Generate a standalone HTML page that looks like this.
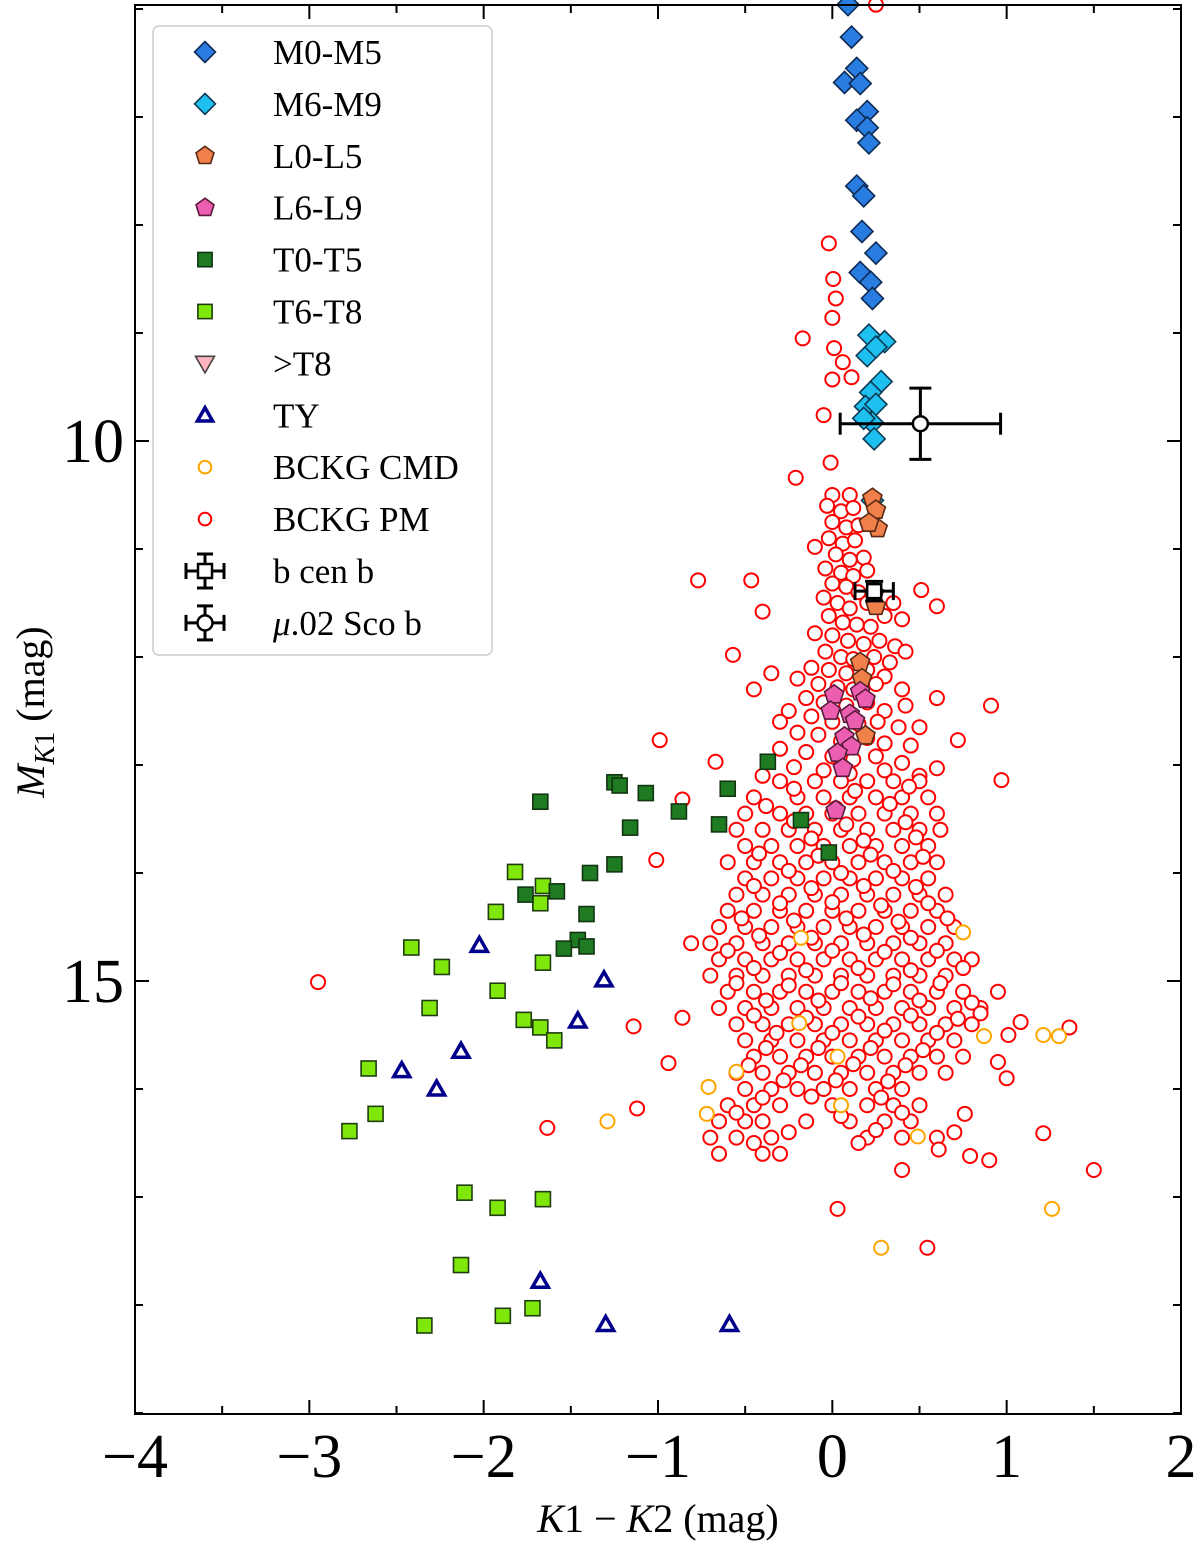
<!DOCTYPE html>
<html><head><meta charset="utf-8"><style>
html,body{margin:0;padding:0;background:#fff;width:1200px;height:1548px;overflow:hidden}
svg{display:block}
text{font-family:"Liberation Serif",serif;fill:#000}
</style></head><body>
<svg id="chart" width="1200" height="1548" viewBox="0 0 1200 1548" xmlns="http://www.w3.org/2000/svg">
<g id="marks"></g>
<g id="axes"></g>
<g id="legend"></g>
</svg>
<script>
const xTicks=[-4,-3,-2,-1,0,1,2];
const xTickLabels=["\u22124","\u22123","\u22122","\u22121","0","1","2"];
const yTicks=[10,15];
const yTickLabels=["10","15"];
const m05=[[0.09,5.96],[0.11,6.26],[0.14,6.55],[0.07,6.68],[0.16,6.69],[0.20,6.95],[0.14,7.03],[0.20,7.10],[0.21,7.24],[0.14,7.64],[0.18,7.73],[0.17,8.06],[0.25,8.26],[0.16,8.44],[0.22,8.53],[0.23,8.68]];
const m69=[[0.21,9.02],[0.30,9.08],[0.20,9.21],[0.25,9.13],[0.28,9.45],[0.22,9.55],[0.19,9.68],[0.25,9.66],[0.23,9.83],[0.18,9.79],[0.24,9.98],[0.23,10.55]];
const l05=[[0.23,10.53],[0.25,10.64],[0.26,10.81],[0.21,10.76],[0.24,11.41],[0.25,11.53],[0.16,12.05],[0.17,12.20],[0.19,12.73]];
const l69=[[0.01,12.35],[0.16,12.32],[0.19,12.39],[0.10,12.53],[-0.01,12.50],[0.13,12.59],[0.07,12.74],[0.11,12.83],[0.03,12.89],[0.06,13.03],[0.02,13.42]];
const t05=[[-1.675,13.34],[-1.25,13.16],[-1.22,13.19],[-1.07,13.26],[-0.88,13.43],[-0.65,13.55],[-0.60,13.22],[-0.37,12.97],[-1.16,13.58],[-1.25,13.92],[-1.39,14.00],[-1.41,14.38],[-1.46,14.62],[-1.54,14.70],[-1.41,14.68],[-1.58,14.17],[-1.76,14.20],[-0.18,13.51],[-0.02,13.81]];
const t68=[[-1.82,13.99],[-1.66,14.12],[-1.675,14.28],[-1.93,14.36],[-2.415,14.69],[-2.24,14.87],[-1.66,14.83],[-1.92,15.09],[-2.31,15.25],[-1.77,15.36],[-1.675,15.43],[-1.595,15.55],[-2.66,15.81],[-2.62,16.23],[-2.77,16.39],[-2.11,16.96],[-1.66,17.02],[-1.92,17.10],[-2.13,17.63],[-1.72,18.03],[-1.89,18.10],[-2.34,18.19]];
const ty=[[-2.025,14.67],[-1.31,14.99],[-1.46,15.37],[-2.13,15.65],[-2.47,15.83],[-2.27,16.00],[-1.675,17.78],[-1.30,18.18],[-0.59,18.18]];
const bckgCmd=[[-0.18,14.60],[0.75,14.55],[0.03,15.70],[-0.71,15.98],[-0.55,15.84],[-0.72,16.23],[-1.29,16.30],[0.05,16.15],[0.49,16.44],[1.21,15.50],[1.30,15.51],[0.87,15.51],[1.26,17.11],[0.28,17.47],[-0.19,15.39]];
const bckgPmOut=[[-2.95,15.01],[-0.77,11.29],[-0.465,11.29],[-0.57,11.98],[-0.99,12.77],[-0.86,13.32],[-0.67,12.97],[-1.01,13.88],[-0.81,14.65],[-1.14,15.42],[-0.94,15.76],[-0.86,15.34],[-1.12,16.18],[-1.635,16.36],[1.50,16.75],[0.97,13.14],[0.91,12.45],[0.51,11.38],[0.60,11.53],[0.60,12.38],[0.72,12.77],[0.60,13.03],[0.03,17.11],[0.545,17.47],[1.36,15.43],[1.08,15.38],[1.01,15.50],[1.21,16.41],[0.90,16.66],[0.79,16.62],[0.76,16.23],[0.61,16.56],[0.25,5.96],[-0.02,8.17],[0.005,8.50],[0.02,8.68],[0,8.86],[-0.17,9.05],[0.01,9.14],[0.06,9.27],[0.11,9.41],[0,9.43],[-0.05,9.76],[-0.01,10.20],[-0.21,10.34],[-0.4,11.58],[-0.35,12.15],[-0.45,12.3],[-0.3,12.6],[0.5,12.65],[0.85,15.3],[0.95,15.75],[1.0,15.9],[0.7,16.4],[0.4,16.75],[-0.45,16.5],[-0.3,16.6],[0.15,16.5]];
const bckgPmCore=[[0.0,10.5],[0.1,10.5],[-0.03,10.6],[0.05,10.65],[0.12,10.62],[0.0,10.75],[0.08,10.8],[0.15,10.78],[-0.02,10.9],[0.06,10.95],[0.13,10.92],[-0.1,10.98],[0.02,11.05],[0.1,11.1],[0.18,11.08],[-0.04,11.18],[0.05,11.22],[0.12,11.25],[0.2,11.2],[0.0,11.32],[0.08,11.35],[0.15,11.4],[-0.05,11.45],[0.03,11.5],[0.1,11.55],[0.2,11.5],[0.3,11.62],[-0.02,11.62],[0.06,11.68],[0.14,11.7],[0.22,11.72],[0.35,11.5],[0.4,11.65],[-0.1,11.78],[0.0,11.8],[0.09,11.85],[0.18,11.88],[0.27,11.85],[0.36,11.9],[-0.04,11.95],[0.05,12.0],[0.12,12.02],[0.24,12.0],[0.33,12.05],[0.42,11.95],[-0.12,12.1],[-0.02,12.12],[0.08,12.15],[0.2,12.12],[0.3,12.18],[-0.2,12.2],[-0.08,12.25],[0.03,12.28],[0.12,12.3],[0.25,12.25],[0.4,12.3],[-0.15,12.38],[-0.05,12.42],[0.08,12.45],[0.2,12.42],[0.3,12.5],[0.42,12.45],[-0.25,12.5],[-0.12,12.55],[0.0,12.6],[0.15,12.62],[0.26,12.6],[0.38,12.65],[-0.2,12.7],[-0.08,12.72],[0.05,12.78],[0.2,12.75],[0.3,12.8],[0.45,12.82],[-0.3,12.85],[-0.15,12.88],[0.0,12.92],[0.12,12.95],[0.25,12.92],[0.4,12.98],[-0.22,13.02],[-0.05,13.05],[0.1,13.08],[0.3,13.05],[0.5,13.1],[-0.4,13.1]];
const blobRowMags=[13.15,13.3,13.45,13.6,13.75,13.9,14.05,14.2,14.35,14.5,14.65,14.8,14.95,15.1,15.25,15.4,15.55,15.7,15.85,16.0,16.15,16.3,16.45,16.6];
const blobRowColors=[
[-0.3,-0.1,0.05,0.2,0.35,0.5],
[-0.45,-0.2,-0.05,0.1,0.25,0.4,0.55],
[-0.5,-0.3,-0.15,0.0,0.15,0.3,0.45,0.6],
[-0.55,-0.4,-0.25,-0.1,0.05,0.2,0.35,0.5,0.62],
[-0.5,-0.35,-0.2,-0.05,0.1,0.25,0.4,0.55],
[-0.6,-0.45,-0.3,-0.15,0.0,0.15,0.3,0.45,0.6],
[-0.5,-0.35,-0.2,-0.05,0.1,0.25,0.4,0.55],
[-0.55,-0.4,-0.25,-0.1,0.05,0.2,0.35,0.5,0.65],
[-0.6,-0.45,-0.3,-0.15,0.0,0.15,0.3,0.45,0.6],
[-0.65,-0.5,-0.35,-0.2,-0.05,0.1,0.25,0.4,0.55,0.7],
[-0.7,-0.55,-0.4,-0.25,-0.1,0.05,0.2,0.35,0.5,0.65],
[-0.65,-0.5,-0.35,-0.2,-0.05,0.1,0.25,0.4,0.55,0.7,0.8],
[-0.7,-0.55,-0.4,-0.25,-0.1,0.05,0.2,0.35,0.5,0.65],
[-0.6,-0.45,-0.3,-0.15,0.0,0.15,0.3,0.45,0.6,0.75,0.95],
[-0.65,-0.5,-0.35,-0.2,-0.05,0.1,0.25,0.4,0.55,0.7,0.85],
[-0.55,-0.4,-0.25,-0.1,0.05,0.2,0.35,0.5,0.65,0.8],
[-0.5,-0.35,-0.2,-0.05,0.1,0.25,0.4,0.55,0.7],
[-0.45,-0.3,-0.15,0.0,0.15,0.3,0.45,0.6,0.75],
[-0.55,-0.4,-0.25,-0.1,0.05,0.2,0.35,0.5,0.65],
[-0.5,-0.35,-0.2,-0.05,0.1,0.25,0.4],
[-0.6,-0.45,-0.3,0.0,0.2,0.35,0.5],
[-0.65,-0.5,-0.4,-0.15,0.1,0.3,0.45],
[-0.7,-0.55,-0.35,0.2,0.4,0.6],
[-0.65,-0.4]];
const bckgPmFill=[[-0.22,13.22],[0.13,13.24],[0.44,13.2],[-0.38,13.38],[0.02,13.4],[0.33,13.36],[-0.22,13.52],[0.08,13.55],[0.42,13.53],[-0.12,13.68],[0.18,13.7],[0.48,13.67],[-0.42,13.82],[-0.08,13.84],[0.22,13.83],[0.52,13.85],[-0.25,13.98],[0.05,14.0],[0.35,13.98],[-0.45,14.12],[-0.12,14.14],[0.18,14.12],[0.48,14.13],[-0.3,14.28],[0.0,14.27],[0.28,14.3],[0.55,14.28],[-0.52,14.42],[-0.22,14.44],[0.08,14.42],[0.38,14.45],[0.66,14.42],[-0.42,14.58],[-0.12,14.6],[0.18,14.57],[0.45,14.6],[-0.6,14.72],[-0.3,14.74],[0.0,14.72],[0.3,14.73],[0.6,14.72],[-0.45,14.88],[-0.15,14.9],[0.15,14.88],[0.45,14.9],[0.75,14.88],[-0.55,15.02],[-0.25,15.04],[0.05,15.02],[0.35,15.03],[0.62,15.02],[-0.38,15.18],[-0.08,15.18],[0.22,15.16],[0.5,15.18],[0.8,15.2],[-0.45,15.32],[-0.15,15.34],[0.15,15.33],[0.45,15.32],[0.72,15.35],[-0.32,15.48],[0.0,15.48],[0.3,15.46],[0.6,15.48],[-0.38,15.62],[-0.08,15.62],[0.22,15.62],[0.52,15.64],[-0.48,15.78],[-0.18,15.78],[0.12,15.77],[0.42,15.78],[-0.28,15.92],[0.02,15.92],[0.32,15.93],[-0.4,16.08],[-0.12,16.07],[0.28,16.08],[-0.55,16.22],[0.05,16.25],[0.4,16.22],[-0.25,16.4],[0.25,16.38]];
const muSco=[0.505,9.84,0.46,0.33];
const bCen=[0.24,11.39,0.11,0.09];

const L=135,R=1181,T=5,B=1414;
const X0=-4,X1=2;
function sx(v){return L+(v-X0)*(R-L)/(X1-X0);}
function sy(m){return 441+(m-10)*108;}
const NS="http://www.w3.org/2000/svg";
function el(tag,attrs,parent){const e=document.createElementNS(NS,tag);for(const k in attrs)e.setAttribute(k,attrs[k]);parent.appendChild(e);return e;}
const marks=document.getElementById('marks'),axes=document.getElementById('axes'),legend=document.getElementById('legend');

function marker(kind,cx,cy,fill,stroke,parent,s){
  s=s||1;let e;
  if(kind==='diamond'){const r=11*s;e=el('polygon',{points:`${cx},${cy-r} ${cx+r},${cy} ${cx},${cy+r} ${cx-r},${cy}`,fill,stroke,'stroke-width':1.6},parent);}
  else if(kind==='pent'){const r=10*s;let p=[];for(let i=0;i<5;i++){const a=-Math.PI/2+i*2*Math.PI/5;p.push((cx+r*Math.cos(a)).toFixed(1)+','+(cy+r*Math.sin(a)).toFixed(1));}e=el('polygon',{points:p.join(' '),fill,stroke,'stroke-width':1.6},parent);}
  else if(kind==='square'){const r=7.5*s;e=el('rect',{x:cx-r,y:cy-r,width:2*r,height:2*r,fill,stroke,'stroke-width':1.6},parent);}
  else if(kind==='tri'){const r=8*s;e=el('polygon',{points:`${cx},${cy-r} ${cx+r},${cy+r*0.75} ${cx-r},${cy+r*0.75}`,fill:'#fff',stroke,'stroke-width':3.5},parent);}
  else if(kind==='vtri'){const r=10*s;e=el('polygon',{points:`${cx-r},${cy-r*0.75} ${cx+r},${cy-r*0.75} ${cx},${cy+r}`,fill,stroke,'stroke-width':1.6},parent);}
  else if(kind==='circ'){e=el('circle',{cx,cy,r:7*s,fill:'#fff',stroke,'stroke-width':2},parent);}
  return e;
}
function series(arr,kind,fill,stroke,name){
  arr.forEach(d=>{const e=marker(kind,sx(d[0]),sy(d[1]),fill,stroke,marks);
    
    });
}
let pm=[];blobRowMags.forEach((m,i)=>blobRowColors[i].forEach(x=>pm.push([x,m])));
series(bckgPmCore,'circ','#fff','#ff0000','bckg-pm-point');
series(pm,'circ','#fff','#ff0000','bckg-pm-point');
series(bckgPmFill,'circ','#fff','#ff0000','bckg-pm-point');
series(bckgPmOut,'circ','#fff','#ff0000','bckg-pm-point');
series(bckgCmd,'circ','#fff','#ffa500','bckg-cmd-point');
series(t68,'square','#7fe80a','#1f3d0f','t6-t8-point');
series(t05,'square','#1e7b22','#123512','t0-t5-point');
series(ty,'tri','#fff','#00008b','ty-point');
series(m05,'diamond','#2a7de0','#0c2a55','m0-m5-point');
series(m69,'diamond','#1ec0f0','#0c3a55','m6-m9-point');
series(l05,'pent','#f0804a','#5a2a14','l0-l5-point');
series(l69,'pent','#ec5fb0','#5a1a3c','l6-l9-point');

function errbar(d,kind,name,parent,cx,cy,pxx,pxy,cap){
  const g=el('g',{},parent);
  
  
  const x=cx,y=cy;
  el('line',{x1:x-pxx,x2:x+pxx,y1:y,y2:y,stroke:'#000','stroke-width':3},g);
  el('line',{x1:x,x2:x,y1:y-pxy,y2:y+pxy,stroke:'#000','stroke-width':3},g);
  [[x-pxx,0],[x+pxx,0]].forEach(c=>el('line',{x1:c[0],x2:c[0],y1:y-cap,y2:y+cap,stroke:'#000','stroke-width':3},g));
  [[y-pxy],[y+pxy]].forEach(c=>el('line',{x1:x-cap,x2:x+cap,y1:c[0],y2:c[0],stroke:'#000','stroke-width':3},g));
  if(kind==='sq')el('rect',{x:x-7,y:y-7,width:14,height:14,fill:'#fff',stroke:'#000','stroke-width':2.5},g);
  else el('circle',{cx:x,cy:y,r:7.5,fill:'#fff',stroke:'#000','stroke-width':2.5},g);
}
errbar(muSco,'ci','mu-sco-b-errorbar',marks,sx(muSco[0]),sy(muSco[1]),sx(muSco[0]+muSco[2])-sx(muSco[0]),muSco[3]*108,11);
errbar(bCen,'sq','b-cen-b-errorbar',marks,sx(bCen[0]),sy(bCen[1]),sx(bCen[0]+bCen[2])-sx(bCen[0]),bCen[3]*108,9);

const fr=el('rect',{x:L,y:T,width:R-L,height:B-T,fill:'none',stroke:'#000','stroke-width':2},axes);

for(let v=-4;v<=2.001;v+=0.5){const x=sx(v);const maj=Math.abs(v-Math.round(v))<1e-6;const len=maj?14:8;
  el('line',{x1:x,x2:x,y1:B,y2:B-len,stroke:'#000','stroke-width':2},axes);
  el('line',{x1:x,x2:x,y1:T,y2:T+len,stroke:'#000','stroke-width':2},axes);}
for(let m=6;m<=19;m++){const y=sy(m);if(y<T||y>B)continue;const maj=(m%5===0);const len=maj?14:8;
  el('line',{x1:L,x2:L+len,y1:y,y2:y,stroke:'#000','stroke-width':2},axes);
  el('line',{x1:R,x2:R-len,y1:y,y2:y,stroke:'#000','stroke-width':2},axes);}
xTicks.forEach((v,i)=>{const t=el('text',{x:sx(v),y:1477,'font-size':62,'text-anchor':'middle'},axes);t.textContent=xTickLabels[i];
  });
yTicks.forEach((v,i)=>{const t=el('text',{x:124,y:sy(v)+21,'font-size':62,'text-anchor':'end'},axes);t.textContent=yTickLabels[i];
  });
const xl=el('text',{x:658,y:1532,'font-size':40,'text-anchor':'middle'},axes);

xl.innerHTML='<tspan font-style="italic">K</tspan>1 \u2212 <tspan font-style="italic">K</tspan>2 (mag)';
const yl=el('text',{x:0,y:0,'font-size':40,'text-anchor':'middle',transform:'translate(44,712) rotate(-90)'},axes);

yl.innerHTML='<tspan font-style="italic">M</tspan><tspan font-size="28" dy="10"><tspan font-style="italic">K</tspan>1</tspan><tspan dy="-10"> (mag)</tspan>';

const lb=el('rect',{x:153,y:26,width:339,height:629,rx:6,fill:'#fff',stroke:'#ccc','stroke-width':1.5},legend);

const legItems=[['diamond','#2a7de0','#0c2a55','M0-M5'],['diamond','#1ec0f0','#0c3a55','M6-M9'],['pent','#f0804a','#5a2a14','L0-L5'],['pent','#ec5fb0','#5a1a3c','L6-L9'],['square','#1e7b22','#123512','T0-T5'],['square','#7fe80a','#1f3d0f','T6-T8'],['vtri','#ffb6c1','#444','>T8'],['tri','#fff','#00008b','TY'],['circ','#fff','#ffa500','BCKG CMD'],['circ','#fff','#ff0000','BCKG PM'],['eb','sq','','b cen b'],['eb','ci','','\u03bc.02 Sco b']];
legItems.forEach((it,i)=>{const y=52+i*51.9;
  const g=el('g',{},legend);
  
  
  if(it[0]==='eb'){errbar(null,it[1],'legend-errorbar-icon',g,205,y,19,17,8);}
  else marker(it[0],205,y,it[1],it[2],g,it[0]==='circ'?0.9:0.95);
  const t=el('text',{x:273,y:y+12,'font-size':35,'textLength':null},g);
  t.removeAttribute('textLength');
  if(i===11){t.innerHTML='<tspan font-style="italic">\u03bc</tspan>.02 Sco b';}else t.textContent=it[3];
});
</script>
</body></html>
